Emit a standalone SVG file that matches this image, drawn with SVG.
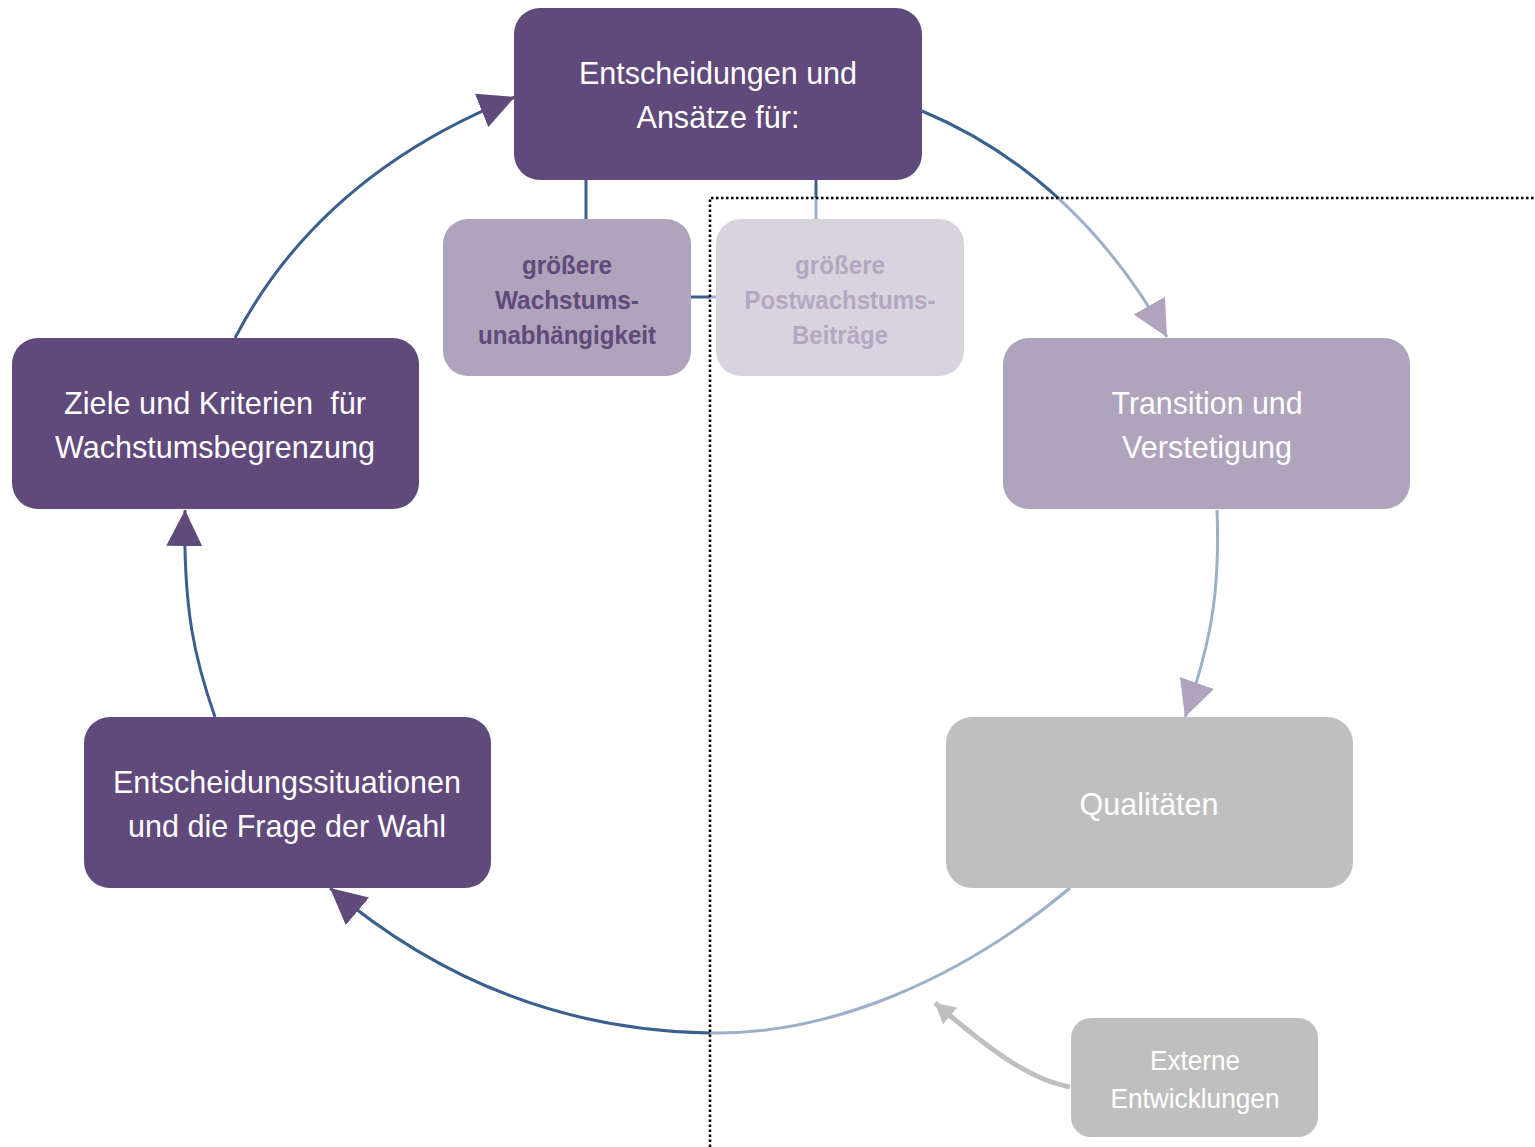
<svg xmlns="http://www.w3.org/2000/svg" width="1535" height="1147" viewBox="0 0 1535 1147">
<style>
.dark{fill:#604a7b}
.mid{fill:#b0a3bc}
.pale{fill:#d9d3e0}
.grey{fill:#bfbfbf}
text{font-family:"Liberation Sans",Arial,sans-serif;text-anchor:middle}
.t{font-size:32px;fill:#ffffff}
.b{font-size:26px;font-weight:bold}
.e{font-size:28px;fill:#ffffff}
.ln{fill:none;stroke:#3b5f8e;stroke-width:3}
.lnl{fill:none;stroke:#9cb1c9;stroke-width:3}
.dot{fill:none;stroke:#000;stroke-width:2.5;stroke-dasharray:2.5 2.5}
</style>
<defs>
<clipPath id="fade"><rect x="710" y="198" width="825" height="949"/></clipPath>
<clipPath id="keep"><path d="M0,0H1535V198H710V1147H0Z"/></clipPath>
<marker id="ad" viewBox="0 0 36 36" refX="36" refY="18" markerWidth="36" markerHeight="36" markerUnits="userSpaceOnUse" orient="auto"><path d="M0,0L36,18L0,36Z" fill="#604a7b"/></marker>
<marker id="al" viewBox="0 0 36 36" refX="36" refY="18" markerWidth="36" markerHeight="36" markerUnits="userSpaceOnUse" orient="auto"><path d="M0,0L36,18L0,36Z" fill="#b0a3bc"/></marker>
<marker id="ag" viewBox="0 0 20 22" refX="20" refY="11" markerWidth="20" markerHeight="22" markerUnits="userSpaceOnUse" orient="auto"><path d="M0,0L20,11L0,22Z" fill="#bfbfbf"/></marker>
</defs>

<g id="connectors">
<g clip-path="url(#keep)">
<path class="ln" d="M235,338 Q320,175 515,97" marker-end="url(#ad)"/>
<path class="ln" d="M922,111 Q1075,175 1167,337"/>
<path class="ln" d="M1070,888 C960,980 830,1035 710,1033 C580,1031 450,990 330,888" marker-end="url(#ad)"/>
<path class="ln" d="M215,717 C195,660 183,610 185,510" marker-end="url(#ad)"/>
<path class="ln" d="M586,180V219"/>
<path class="ln" d="M816,180V219"/>
<path class="ln" d="M691,297H716"/>
</g>
<g clip-path="url(#fade)">
<path class="lnl" d="M922,111 Q1075,175 1167,337" marker-end="url(#al)"/>
<path class="lnl" d="M1070,888 C960,980 830,1035 710,1033"/>
<path class="lnl" d="M1217,510 C1220,590 1212,640 1185,717" marker-end="url(#al)"/>
<path class="lnl" d="M816,180V219"/>
<path class="lnl" d="M691,297H716"/>
</g>
<path d="M1070,1087 C1030,1080 990,1050 935,1003" fill="none" stroke="#bfbfbf" stroke-width="5" marker-end="url(#ag)"/>
<path class="dot" d="M710,1147V198H1535"/>
</g>

<g id="n-top">
<rect class="dark" x="514" y="8" width="408" height="172" rx="26"/>
<text class="t" x="718" y="84" textLength="278" lengthAdjust="spacingAndGlyphs">Entscheidungen und</text>
<text class="t" x="718" y="128" textLength="163" lengthAdjust="spacingAndGlyphs">Ansätze für:</text>
</g>
<g id="n-wachstum">
<rect class="mid" x="443" y="219" width="248" height="157" rx="25"/>
<text class="b" x="567" y="274" fill="#604a7b" textLength="90" lengthAdjust="spacingAndGlyphs">größere</text>
<text class="b" x="567" y="309" fill="#604a7b" textLength="144" lengthAdjust="spacingAndGlyphs">Wachstums-</text>
<text class="b" x="567" y="344" fill="#604a7b" textLength="178" lengthAdjust="spacingAndGlyphs">unabhängigkeit</text>
</g>
<g id="n-postwachstum">
<rect class="pale" x="716" y="219" width="248" height="157" rx="25"/>
<text class="b" x="840" y="274" fill="#b4a8c0" textLength="90" lengthAdjust="spacingAndGlyphs">größere</text>
<text class="b" x="840" y="309" fill="#b4a8c0" textLength="191" lengthAdjust="spacingAndGlyphs">Postwachstums-</text>
<text class="b" x="840" y="344" fill="#b4a8c0" textLength="96" lengthAdjust="spacingAndGlyphs">Beiträge</text>
</g>
<g id="n-ziele">
<rect class="dark" x="12" y="338" width="407" height="171" rx="26"/>
<text class="t" x="215" y="414" xml:space="preserve" textLength="302" lengthAdjust="spacingAndGlyphs">Ziele und Kriterien  für</text>
<text class="t" x="215" y="458" textLength="320" lengthAdjust="spacingAndGlyphs">Wachstumsbegrenzung</text>
</g>
<g id="n-transition">
<rect class="mid" x="1003" y="338" width="407" height="171" rx="26"/>
<text class="t" x="1207" y="414" textLength="191" lengthAdjust="spacingAndGlyphs">Transition und</text>
<text class="t" x="1207" y="458" textLength="170" lengthAdjust="spacingAndGlyphs">Verstetigung</text>
</g>
<g id="n-entscheidungssituationen">
<rect class="dark" x="84" y="717" width="407" height="171" rx="26"/>
<text class="t" x="287" y="793" textLength="348" lengthAdjust="spacingAndGlyphs">Entscheidungssituationen</text>
<text class="t" x="287" y="837" textLength="318" lengthAdjust="spacingAndGlyphs">und die Frage der Wahl</text>
</g>
<g id="n-qualitaeten">
<rect class="grey" x="946" y="717" width="407" height="171" rx="26"/>
<text class="t" x="1149" y="815" textLength="139" lengthAdjust="spacingAndGlyphs">Qualitäten</text>
</g>
<g id="n-externe">
<rect class="grey" x="1071" y="1018" width="247" height="119" rx="20"/>
<text class="e" x="1195" y="1070" textLength="90" lengthAdjust="spacingAndGlyphs">Externe</text>
<text class="e" x="1195" y="1108" textLength="169" lengthAdjust="spacingAndGlyphs">Entwicklungen</text>
</g>
</svg>
